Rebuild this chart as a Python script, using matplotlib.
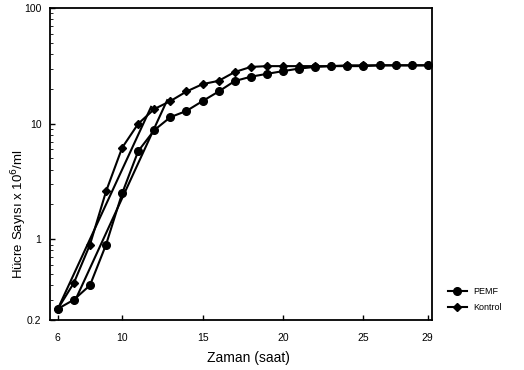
import numpy as np
import matplotlib.pyplot as plt
from matplotlib.ticker import FixedLocator, LogLocator, NullFormatter

plt.rcParams['font.family'] = ['Liberation Sans', 'DejaVu Sans']

# hours
hours = [6, 7, 8, 9, 10, 11, 12, 13, 14, 15, 16, 17, 18, 19, 20, 21, 22, 23, 24, 25, 26, 27, 28, 29]
# cell counts (x 10^6 / ml)
pemf = [0.25, 0.30, 0.40, 0.90, 2.5, 5.8, 8.8, 11.4, 12.9, 15.7, 19.0, 23.4, 25.5, 27.0,
        28.5, 30.0, 31.0, 31.5, 31.5, 31.5, 32.0, 32.0, 32.0, 32.0]
kontrol = [0.25, 0.42, 0.90, 2.6, 6.2, 10.0, 13.4, 15.7, 19.0, 22.0, 23.5, 28.0, 31.0, 31.5,
           31.5, 31.5, 31.5, 31.5, 32.0, 32.0, 32.0, 32.0, 32.0, 32.0]

# straight exponential-phase lines drawn in the log region
fit_kontrol_x = [6, 11.8]
fit_kontrol_y = [0.25, 14.0]
fit_pemf_x = [7, 12.8]
fit_pemf_y = [0.28, 16.0]

x_ticks = [6, 10, 15, 20, 25, 29]
y_ticks = [0.2, 1, 10, 100]
y_tick_labels = ['0.2', '1', '10', '100']

fig = plt.figure(figsize=(5.24, 3.70), dpi=100)
ax = fig.add_axes([0.095, 0.135, 0.729, 0.843])

ax.plot(hours, pemf, color='black', lw=1.5, marker='o', ms=5.5, label='PEMF')
ax.plot(hours, kontrol, color='black', lw=1.5, marker='D', ms=4, label='Kontrol')
ax.plot(fit_kontrol_x, fit_kontrol_y, color='black', lw=1.5)
ax.plot(fit_pemf_x, fit_pemf_y, color='black', lw=1.5)

ax.set_yscale('log')
ax.set_ylim(0.2, 100)
ax.set_xlim(5.5, 29.25)
ax.yaxis.set_major_locator(FixedLocator(y_ticks))
ax.set_yticklabels(y_tick_labels)
ax.yaxis.set_minor_locator(LogLocator(base=10, subs=np.arange(2, 10)))
ax.yaxis.set_minor_formatter(NullFormatter())
ax.set_xticks(x_ticks)
ax.tick_params(axis='both', direction='in', labelsize=7.5, width=1)
ax.tick_params(axis='x', pad=9)
ax.tick_params(axis='y', pad=6)
ax.tick_params(axis='y', which='minor', direction='in', length=2)

for s in ax.spines.values():
    s.set_linewidth(1.3)

ax.set_xlabel('Zaman (saat)', fontsize=10)
ax.xaxis.set_label_coords(0.52, -0.10)
ax.set_ylabel('Hücre Sayısı x 10$^6$/ml', fontsize=9.5)
ax.yaxis.set_label_coords(-0.055, 0.34)

ax.legend(loc='lower left', bbox_to_anchor=(1.02, 0.0), frameon=False, fontsize=6.5,
          handlelength=2.2, handletextpad=0.6, labelspacing=0.8)

fig.savefig('out.png', dpi=100)
